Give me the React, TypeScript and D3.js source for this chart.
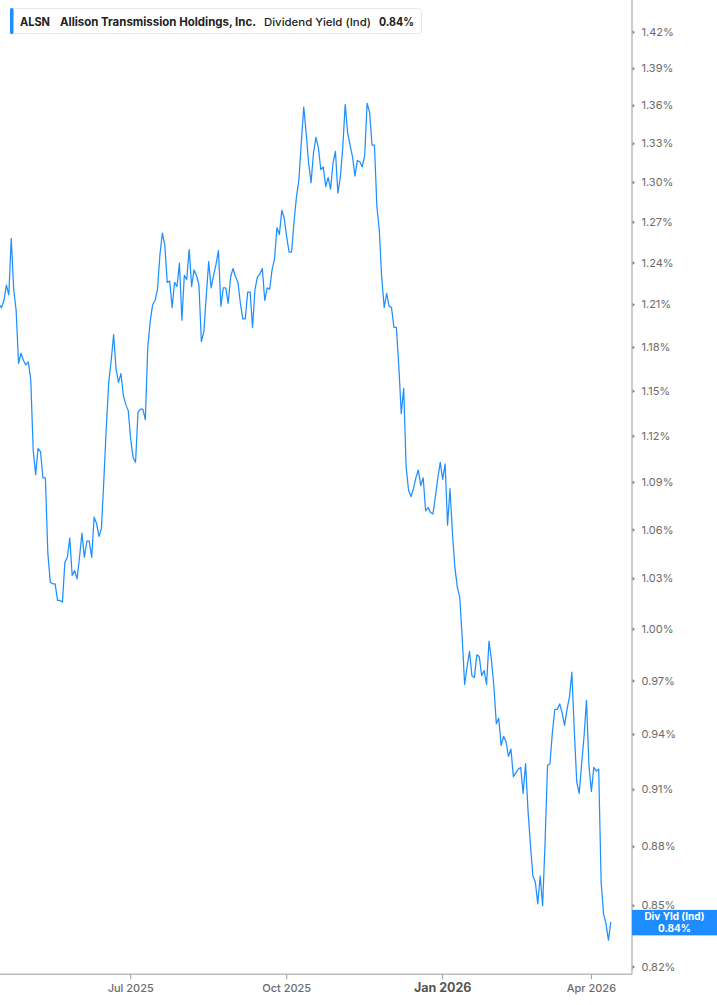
import React from 'react';
import * as d3 from 'd3';

const ticker = 'ALSN';
const companyName = 'Allison Transmission Holdings, Inc.';
const metricName = 'Dividend Yield (Ind)';
const badgeTitle = 'Div Yld (Ind)';

const startDate = '2025-04-11';
const endDate = '2026-04-14';
const marketHolidays = [
  '2025-04-18', '2025-05-26', '2025-06-19', '2025-07-04', '2025-09-01', '2025-11-27',
  '2025-12-25', '2026-01-01', '2026-01-19', '2026-02-16', '2026-04-03',
];

// Dividend yield (%) for each trading day from startDate to endDate
const yieldValues = [
  1.210,
  1.208, 1.213, 1.224, 1.217, 1.258, 1.221, 1.206, 1.169, 1.176, 1.171,
  1.168, 1.170, 1.158, 1.111, 1.095, 1.112, 1.110, 1.093, 1.093, 1.046,
  1.028, 1.027, 1.027, 1.017, 1.017, 1.016, 1.040, 1.043, 1.055, 1.032,
  1.035, 1.030, 1.043, 1.058, 1.043, 1.053, 1.053, 1.043, 1.068, 1.064,
  1.056, 1.061, 1.092, 1.126, 1.156, 1.171, 1.189, 1.165, 1.156, 1.162,
  1.147, 1.141, 1.137, 1.118, 1.106, 1.103, 1.136, 1.138, 1.138, 1.131,
  1.180, 1.198, 1.210, 1.213, 1.221, 1.246, 1.262, 1.253, 1.226, 1.227,
  1.208, 1.226, 1.223, 1.240, 1.199, 1.231, 1.228, 1.250, 1.223, 1.235,
  1.231, 1.224, 1.184, 1.191, 1.216, 1.241, 1.222, 1.231, 1.239, 1.249,
  1.209, 1.222, 1.222, 1.211, 1.230, 1.236, 1.230, 1.226, 1.211, 1.200,
  1.200, 1.219, 1.219, 1.194, 1.221, 1.230, 1.232, 1.236, 1.213, 1.222,
  1.221, 1.235, 1.243, 1.266, 1.261, 1.279, 1.273, 1.259, 1.248, 1.248,
  1.270, 1.289, 1.302, 1.331, 1.359, 1.338, 1.315, 1.300, 1.323, 1.335,
  1.327, 1.310, 1.312, 1.297, 1.304, 1.295, 1.315, 1.324, 1.292, 1.304,
  1.327, 1.361, 1.339, 1.329, 1.320, 1.305, 1.317, 1.316, 1.312, 1.321,
  1.362, 1.355, 1.329, 1.329, 1.282, 1.264, 1.229, 1.208, 1.218, 1.209,
  1.208, 1.194, 1.194, 1.167, 1.135, 1.152, 1.100, 1.085, 1.081, 1.086,
  1.093, 1.098, 1.088, 1.093, 1.072, 1.074, 1.071, 1.070, 1.081, 1.093,
  1.103, 1.092, 1.102, 1.063, 1.086, 1.058, 1.037, 1.025, 1.019, 0.995,
  0.968, 0.978, 0.987, 0.973, 0.972, 0.985, 0.984, 0.973, 0.976, 0.968,
  0.993, 0.982, 0.967, 0.946, 0.949, 0.934, 0.939, 0.936, 0.928, 0.932,
  0.917, 0.919, 0.921, 0.922, 0.908, 0.924, 0.899, 0.881, 0.865, 0.862,
  0.851, 0.865, 0.850, 0.882, 0.923, 0.924, 0.941, 0.954, 0.954, 0.957,
  0.952, 0.945, 0.954, 0.961, 0.975, 0.942, 0.914, 0.908, 0.924, 0.939,
  0.959, 0.923, 0.909, 0.922, 0.920, 0.921, 0.862, 0.846, 0.841, 0.833,
  0.842,
];

const yTickValues = [0.82, 0.85, 0.88, 0.91, 0.94, 0.97, 1.0, 1.03, 1.06, 1.09, 1.12, 1.15, 1.18, 1.21, 1.24, 1.27, 1.3, 1.33, 1.36, 1.39, 1.42];
const xTickMonths = ['2025-07', '2025-10', '2026-01', '2026-04'];
const xTickLabels = ['Jul 2025', 'Oct 2025', 'Jan 2026', 'Apr 2026'];
const xTickBold = [false, false, true, false];

function tradingDays(start: string, end: string, holidays: string[]): string[] {
  const out: string[] = [];
  const hol = new Set(holidays);
  const d = new Date(start + 'T00:00:00Z');
  const e = new Date(end + 'T00:00:00Z');
  while (d <= e) {
    const wd = d.getUTCDay();
    const s = d.toISOString().slice(0, 10);
    if (wd !== 0 && wd !== 6 && !hol.has(s)) out.push(s);
    d.setUTCDate(d.getUTCDate() + 1);
  }
  return out;
}

const W = 717;
const H = 1005;
const plotRight = 632;
const plotBottom = 974.3;
const lineColor = '#1f8fff';
const FONT = 'Inter, "Noto Sans", Roboto, sans-serif';

export default function App() {
  const dates = tradingDays(startDate, endDate, marketHolidays);
  const n = Math.min(dates.length, yieldValues.length);
  const data = d3.range(n).map((i) => ({ i, date: dates[i], v: yieldValues[i] }));

  const step = 2.4375;
  const x = d3.scaleLinear().domain([0, n - 1]).range([1.5 - step, 1.5 - step + (n - 1) * step]);
  const y = d3.scaleLog().domain([0.81646, 1.4472]).range([plotBottom, 0]);

  const line = d3
    .line<{ i: number; v: number }>()
    .x((d) => x(d.i))
    .y((d) => y(d.v));

  const xTicks = xTickMonths.map((m, k) => {
    const idx = dates.findIndex((d) => d.slice(0, 7) === m);
    return { idx, label: xTickLabels[k], bold: xTickBold[k] };
  });

  const last = data[data.length - 1];
  const lastY = y(last.v);
  const fmt = d3.format('.2f');

  return (
    <div style={{ position: 'absolute', left: 0, top: 0 }}>
      <svg width={W} height={H} style={{ display: 'block', fontFamily: FONT }}>
        <defs>
          <clipPath id="plotClip">
            <rect x={0} y={0} width={plotRight} height={plotBottom} />
          </clipPath>
        </defs>
        <rect x={0} y={0} width={W} height={H} fill="#ffffff" />

        <path d={line(data) || ''} fill="none" stroke={lineColor} strokeWidth={1.25} strokeLinejoin="round" clipPath="url(#plotClip)" />

        {/* axes */}
        <line x1={plotRight} x2={plotRight} y1={0} y2={plotBottom} stroke="#bdbdbd" strokeWidth={1.5} />
        <line x1={0} x2={plotRight} y1={plotBottom} y2={plotBottom} stroke="#bdbdbd" strokeWidth={1.5} />

        {yTickValues.map((t) => {
          const ty = y(t);
          return (
            <g key={t}>
              <path d={`M${plotRight + 0.5},${ty - 2} L${plotRight + 3},${ty} L${plotRight + 0.5},${ty + 2} Z`} fill="#8a8a8a" />
              <text x={641.5} y={ty} dy="0.33em" fontSize={11} fill="#6b6b6b">
                {fmt(t)}%
              </text>
            </g>
          );
        })}

        {xTicks.map((t) => {
          const tx = x(t.idx);
          return (
            <g key={t.label}>
              <line x1={tx} x2={tx} y1={plotBottom} y2={plotBottom + 5} stroke="#9a9a9a" strokeWidth={1} />
              <text
                x={tx}
                y={992}
                textAnchor="middle"
                fontSize={t.bold ? 12.5 : 11}
                fontWeight={t.bold ? 700 : 500}
                fill={t.bold ? '#555555' : '#6b6b6b'}
              >
                {t.label}
              </text>
            </g>
          );
        })}

        {/* last value badge */}
        <rect x={plotRight} y={lastY - 12} width={W - plotRight} height={25.5} fill="#1e8cff" />
        <text x={674.5} y={lastY - 1.5} textAnchor="middle" fontSize={10} fontWeight={700} fill="#ffffff">
          {badgeTitle}
        </text>
        <text x={674.5} y={lastY + 9.8} textAnchor="middle" fontSize={10} fontWeight={700} fill="#ffffff">
          {fmt(last.v)}%
        </text>

        {/* header legend */}
        <rect x={10.5} y={8.5} width={411} height={25} rx={3} fill="#ffffff" stroke="#e8e8e8" />
        <rect x={10} y={8} width={3.5} height={26} rx={1.5} fill={lineColor} />
        <text x={20} y={25.5} fontSize={11.6} fontWeight={700} fill="#222222" textLength={30} lengthAdjust="spacingAndGlyphs">
          {ticker}
        </text>
        <text x={60} y={25.5} fontSize={11.5} fontWeight={700} fill="#222222" textLength={196} lengthAdjust="spacingAndGlyphs">
          {companyName}
        </text>
        <text x={264} y={25.5} fontSize={11} fontWeight={500} fill="#222222" textLength={107} lengthAdjust="spacingAndGlyphs">
          {metricName}
        </text>
        <text x={379} y={25.5} fontSize={11.6} fontWeight={700} fill="#222222" textLength={35} lengthAdjust="spacingAndGlyphs">
          {fmt(last.v)}%
        </text>
      </svg>
    </div>
  );
}
